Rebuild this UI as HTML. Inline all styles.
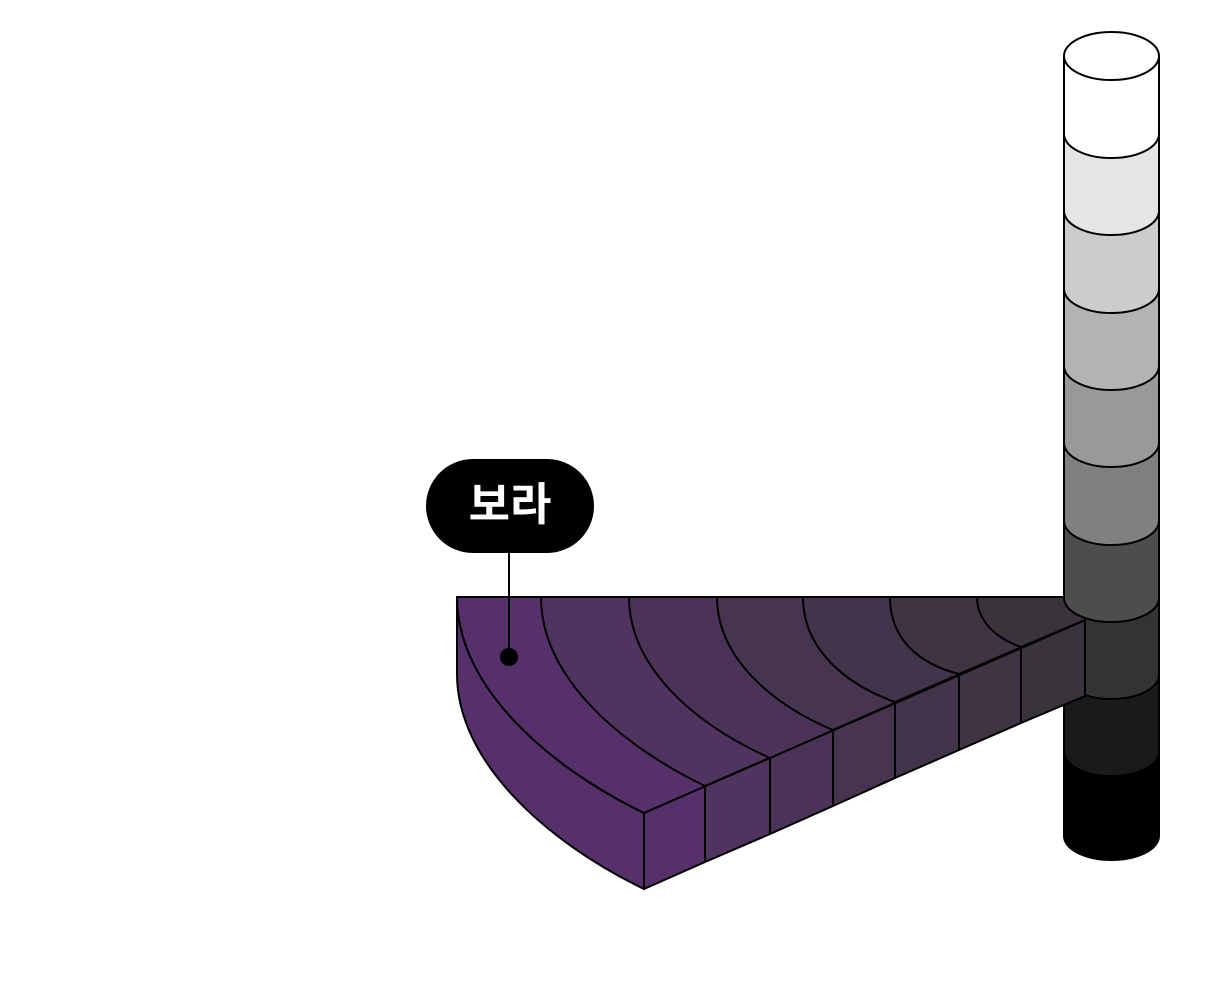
<!DOCTYPE html>
<html><head><meta charset="utf-8"><style>
html,body{margin:0;padding:0;background:#fff;width:1228px;height:1000px;overflow:hidden}
svg{display:block}
</style></head><body>
<svg width="1228" height="1000" viewBox="0 0 1228 1000" xmlns="http://www.w3.org/2000/svg">
<g stroke="#000" stroke-width="2" stroke-linejoin="round">
<path d="M1064,752 L1064,836 A47.5,24 0 0 0 1159,836 L1159,752 Z" fill="#000"/>
<path d="M1064,675 L1064,752 A47.5,24 0 0 0 1159,752 L1159,675 Z" fill="#1a1a1a"/>
<path d="M1064,598 L1064,675 A47.5,24 0 0 0 1159,675 L1159,598 Z" fill="#333"/>

<path d="M457,597 C457,685 545,765 644,813 L644,889 C545,841 457,761 457,674 Z" fill="#56306a"/>
<path d="M644,813 L705,786 L705,862 L644,889 Z" fill="#56306a"/>
<path d="M705,786 L770,758 L770,834 L705,862 Z" fill="#513360"/>
<path d="M770,758 L833,730 L833,806 L770,834 Z" fill="#4b3358"/>
<path d="M833,730 L895,702 L895,778 L833,806 Z" fill="#463451"/>
<path d="M895,702 L959,674 L959,750 L895,778 Z" fill="#42344a"/>
<path d="M959,674 L1021,647 L1021,723 L959,750 Z" fill="#3e3443"/>
<path d="M1021,647 L1085,620 L1085,696 L1021,723 Z" fill="#39333c"/>
<path d="M457,597 C457,685 545,765 644,813 L1085,620 L1085,597 Z" fill="#56306a"/>
<path d="M541,597 C541,676 618,744 705,786 L1085,620 L1085,597 Z" fill="#513360"/>
<path d="M629,597 C629,667 694,724 770,758 L1085,620 L1085,597 Z" fill="#4b3358"/>
<path d="M717,597 C717,657 771,704 833,730 L1085,620 L1085,597 Z" fill="#463451"/>
<path d="M803,597 C803,649 845,684 895,702 L1085,620 L1085,597 Z" fill="#42344a"/>
<path d="M890,597 C890,640 920,664 959,674 L1085,620 L1085,597 Z" fill="#3e3443"/>
<path d="M977,597 C977,620 995,638 1021,647 L1085,620 L1085,597 Z" fill="#39333c"/>

<path d="M1064,521 L1064,598 A47.5,24 0 0 0 1159,598 L1159,521 Z" fill="#4d4d4d"/>
<path d="M1064,443 L1064,521 A47.5,24 0 0 0 1159,521 L1159,443 Z" fill="#808080"/>
<path d="M1064,366 L1064,443 A47.5,24 0 0 0 1159,443 L1159,366 Z" fill="#999"/>
<path d="M1064,289 L1064,366 A47.5,24 0 0 0 1159,366 L1159,289 Z" fill="#b3b3b3"/>
<path d="M1064,211 L1064,289 A47.5,24 0 0 0 1159,289 L1159,211 Z" fill="#ccc"/>
<path d="M1064,134 L1064,211 A47.5,24 0 0 0 1159,211 L1159,134 Z" fill="#e5e5e5"/>
<path d="M1064,56 L1064,134 A47.5,24 0 0 0 1159,134 L1159,56 Z" fill="#fff"/>
<ellipse cx="1111.5" cy="56" rx="47.5" ry="24" fill="#fff"/>
</g>

<line x1="509" y1="550" x2="509" y2="657" stroke="#000" stroke-width="2"/>
<circle cx="509" cy="657" r="9" fill="#000"/>
<rect x="426" y="459" width="168" height="94" rx="47" ry="47" fill="#000"/>
<text x="510" y="520" text-anchor="middle" fill="#fff" font-family="'Liberation Sans','Noto Sans CJK KR','NanumGothic',sans-serif" font-size="45" font-weight="bold">보라</text>
</svg>
</body></html>
